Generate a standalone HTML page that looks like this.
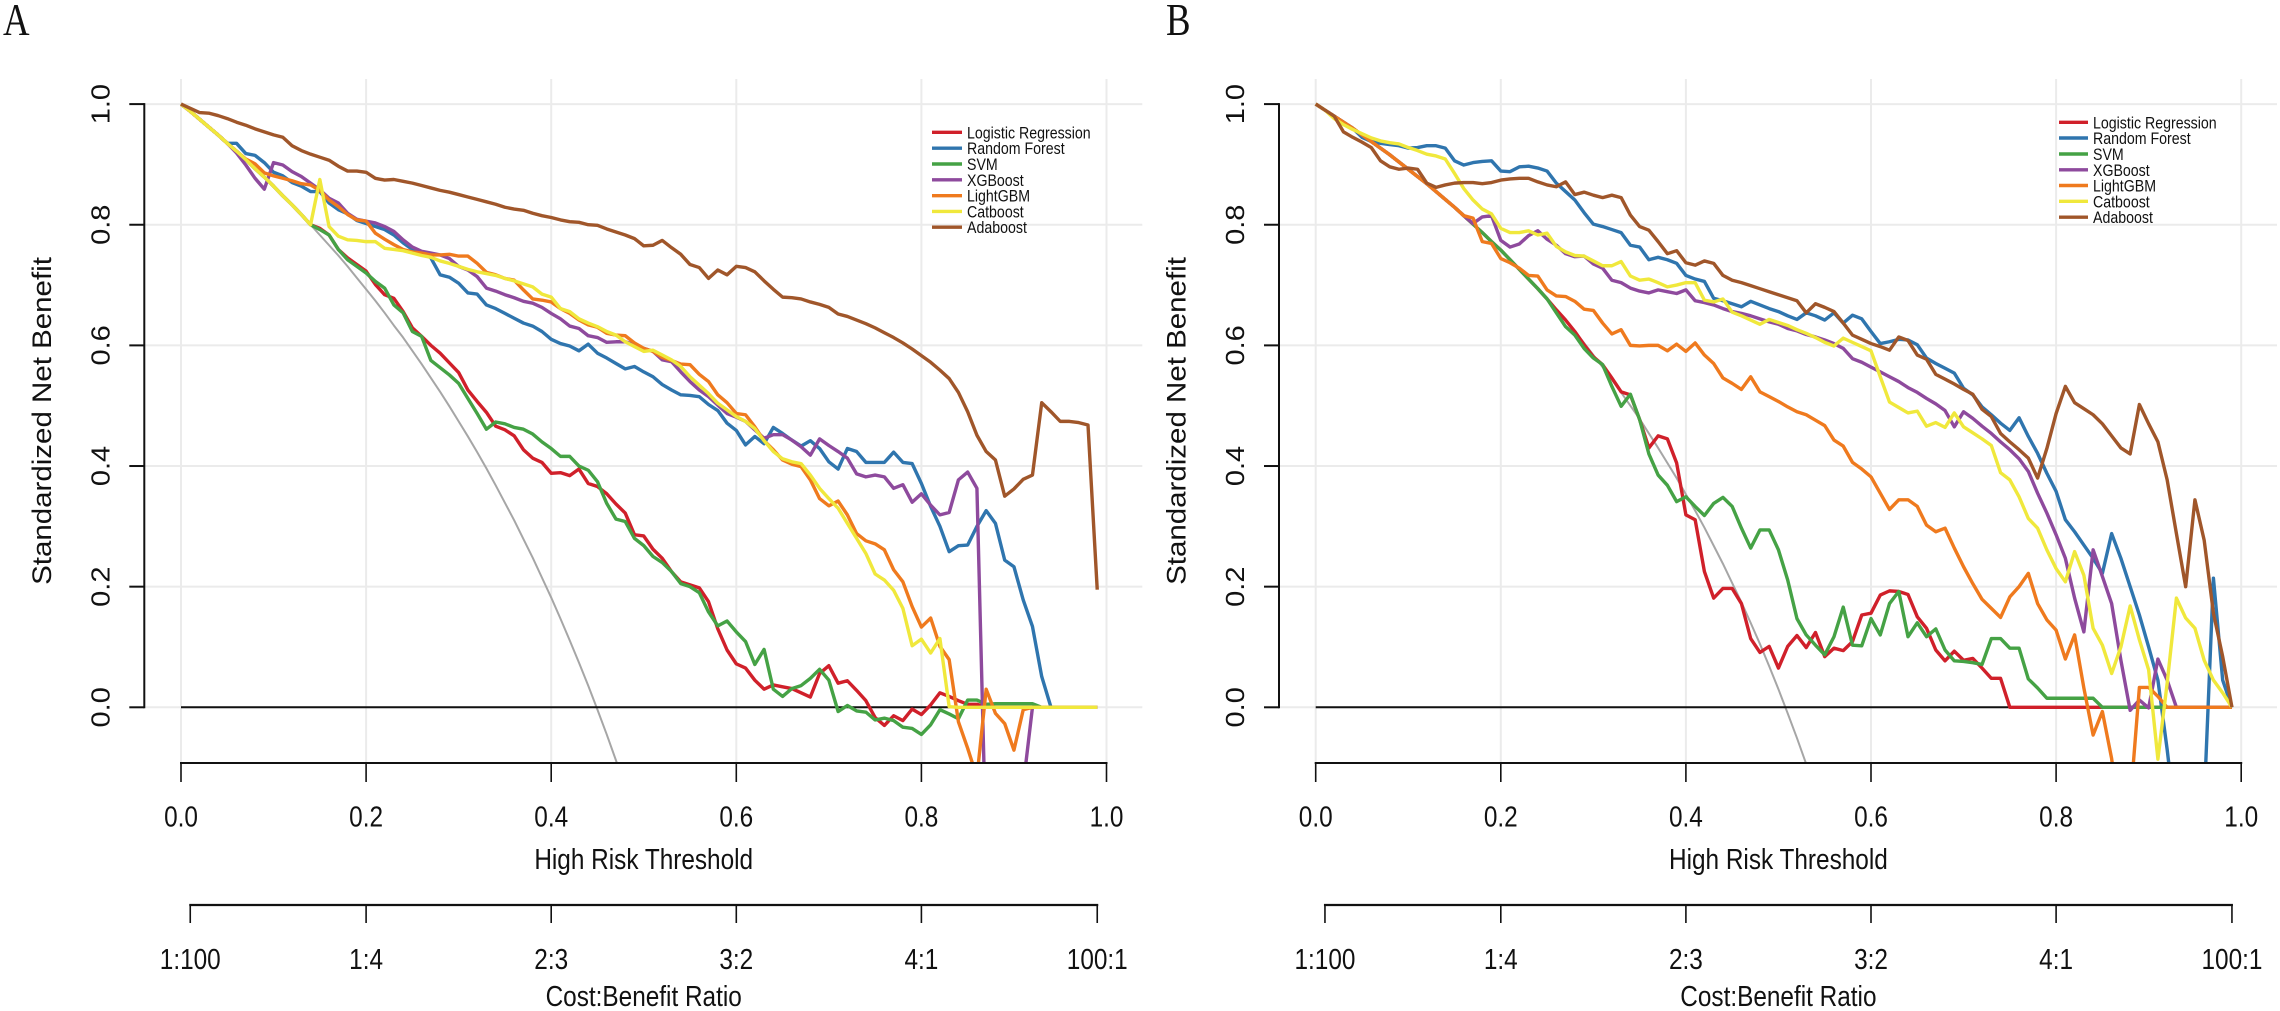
<!DOCTYPE html>
<html lang="en">
<head>
<meta charset="utf-8">
<title>Decision curves A and B</title>
<style>
html,body{margin:0;padding:0;background:#fff;}
svg{display:block;}
text{font-family:"Liberation Sans",sans-serif;fill:#111;}
.serif{font-family:"Liberation Serif",serif;}
</style>
</head>
<body>
<svg id="chart" xmlns="http://www.w3.org/2000/svg" width="2280" height="1011" viewBox="0 0 2280 1011">
  <defs>
    <clipPath id="clip-a"><rect x="144" y="79" width="998" height="684"/></clipPath>
    <clipPath id="clip-b"><rect x="1279" y="79" width="998" height="684"/></clipPath>
  </defs>
  <rect x="0" y="0" width="2280" height="1011" fill="#fff"/>
  <g id="panel-a"></g>
  <g id="panel-b"></g>

  <text class="serif" transform="translate(3,35) scale(.8,1)" font-size="46">A</text>
  <text class="serif" transform="translate(1166,35) scale(.8,1)" font-size="46">B</text>

  <text transform="translate(51,421) scale(.9,1) rotate(-90)" font-size="29.5" text-anchor="middle">Standardized Net Benefit</text>
  <text transform="translate(643.7,869) scale(.84,1)" font-size="29" text-anchor="middle">High Risk Threshold</text>
  <text transform="translate(643.7,1006) scale(.84,1)" font-size="29" text-anchor="middle">Cost:Benefit Ratio</text>

  <text transform="translate(1185.7,421) scale(.9,1) rotate(-90)" font-size="29.5" text-anchor="middle">Standardized Net Benefit</text>
  <text transform="translate(1778.4,869) scale(.84,1)" font-size="29" text-anchor="middle">High Risk Threshold</text>
  <text transform="translate(1778.4,1006) scale(.84,1)" font-size="29" text-anchor="middle">Cost:Benefit Ratio</text>

  <g font-size="16.3">
    <g><line x1="932" x2="962" y1="132.3" y2="132.3" stroke="#d0202a" stroke-width="3.4"/><text transform="translate(967,138.3) scale(.87,1)">Logistic Regression</text></g>
    <g><line x1="932" x2="962" y1="148.2" y2="148.2" stroke="#2f75ae" stroke-width="3.4"/><text transform="translate(967,154.2) scale(.87,1)">Random Forest</text></g>
    <g><line x1="932" x2="962" y1="164" y2="164" stroke="#45a245" stroke-width="3.4"/><text transform="translate(967,170) scale(.87,1)">SVM</text></g>
    <g><line x1="932" x2="962" y1="179.8" y2="179.8" stroke="#8e4a9d" stroke-width="3.4"/><text transform="translate(967,185.8) scale(.87,1)">XGBoost</text></g>
    <g><line x1="932" x2="962" y1="195.7" y2="195.7" stroke="#ef7a1e" stroke-width="3.4"/><text transform="translate(967,201.7) scale(.87,1)">LightGBM</text></g>
    <g><line x1="932" x2="962" y1="211.4" y2="211.4" stroke="#f0e83c" stroke-width="3.4"/><text transform="translate(967,217.4) scale(.87,1)">Catboost</text></g>
    <g><line x1="932" x2="962" y1="227.2" y2="227.2" stroke="#a0562a" stroke-width="3.4"/><text transform="translate(967,233.2) scale(.87,1)">Adaboost</text></g>
  </g>

  <g font-size="16.3">
    <g><line x1="2059" x2="2088" y1="122.3" y2="122.3" stroke="#d0202a" stroke-width="3.4"/><text transform="translate(2093,128.3) scale(.87,1)">Logistic Regression</text></g>
    <g><line x1="2059" x2="2088" y1="138" y2="138" stroke="#2f75ae" stroke-width="3.4"/><text transform="translate(2093,144) scale(.87,1)">Random Forest</text></g>
    <g><line x1="2059" x2="2088" y1="154" y2="154" stroke="#45a245" stroke-width="3.4"/><text transform="translate(2093,160) scale(.87,1)">SVM</text></g>
    <g><line x1="2059" x2="2088" y1="169.8" y2="169.8" stroke="#8e4a9d" stroke-width="3.4"/><text transform="translate(2093,175.8) scale(.87,1)">XGBoost</text></g>
    <g><line x1="2059" x2="2088" y1="185.5" y2="185.5" stroke="#ef7a1e" stroke-width="3.4"/><text transform="translate(2093,191.5) scale(.87,1)">LightGBM</text></g>
    <g><line x1="2059" x2="2088" y1="201.3" y2="201.3" stroke="#f0e83c" stroke-width="3.4"/><text transform="translate(2093,207.3) scale(.87,1)">Catboost</text></g>
    <g><line x1="2059" x2="2088" y1="217.2" y2="217.2" stroke="#a0562a" stroke-width="3.4"/><text transform="translate(2093,223.2) scale(.87,1)">Adaboost</text></g>
  </g>
</svg>

<script>
const thresholds = [
0,.01,.02,.03,.04,.05,.06,.07,.08,.09,
.10,.11,.12,.13,.14,.15,.16,.17,.18,.19,
.20,.21,.22,.23,.24,.25,.26,.27,.28,.29,
.30,.31,.32,.33,.34,.35,.36,.37,.38,.39,
.40,.41,.42,.43,.44,.45,.46,.47,.48,.49,
.50,.51,.52,.53,.54,.55,.56,.57,.58,.59,
.60,.61,.62,.63,.64,.65,.66,.67,.68,.69,
.70,.71,.72,.73,.74,.75,.76,.77,.78,.79,
.80,.81,.82,.83,.84,.85,.86,.87,.88,.89,
.90,.91,.92,.93,.94,.95,.96,.97,.98,.99];

const xTicks = [0,.2,.4,.6,.8,1];
const xTickLabels = ["0.0","0.2","0.4","0.6","0.8","1.0"];
const yTicks = [0,.2,.4,.6,.8,1];
const yTickLabels = ["0.0","0.2","0.4","0.6","0.8","1.0"];
const ratioTicks = [.01,.2,.4,.6,.8,.99];
const ratioLabels = ["1:100","1:4","2:3","3:2","4:1","100:1"];
const seriesNames = ["logistic-regression","random-forest","svm","xgboost","lightgbm","catboost","adaboost"];
const seriesColors = ["#d0202a","#2f75ae","#45a245","#8e4a9d","#ef7a1e","#f0e83c","#a0562a"];

const treatAllA = [1,.988,.975,.962,.949,.935,.922,.908,.893,.879,
.864,.848,.833,.817,.800,.783,.766,.749,.731,.712,
.693,.674,.654,.633,.613,.591,.569,.546,.523,.499,
.474,.449,.423,.396,.368,.339,.310,.279,.248,.215,
.182,.147,.111,.074,.036,-.004,-.045,-.088,-.133];

const logisticA = [1,.988,.975,.962,.949,.935,.922,.908,.893,.879,
.864,.848,.833,.817,.800,.794,.783,.759,.745,.734,
.723,.701,.684,.678,.656,.629,.615,.600,.587,.571,
.555,.526,.507,.489,.466,.460,.450,.427,.413,.406,
.388,.389,.384,.395,.371,.366,.354,.337,.322,.286,
.284,.262,.247,.225,.208,.203,.198,.175,.130,.095,
.072,.065,.045,.030,.037,.034,.031,.024,.017,.056,
.069,.040,.044,.028,.011,-.017,-.030,-.014,-.022,-.003,
-.012,.004,.024,.018,.011,.005,.005,0,0,0,
0,0,0,0,0,0,0,0,0,0];

const forestA = [1,.988,.975,.962,.949,.935,.935,.918,.915,.903,
.887,.881,.870,.864,.855,.855,.836,.825,.818,.807,
.802,.797,.792,.783,.770,.759,.755,.745,.717,.713,
.703,.687,.685,.667,.661,.653,.645,.637,.632,.623,
.610,.603,.599,.591,.602,.587,.579,.570,.561,.565,
.556,.548,.535,.526,.518,.517,.515,.502,.492,.471,
.459,.435,.449,.437,.464,.454,.443,.433,.442,.429,
.407,.395,.429,.424,.406,.406,.406,.423,.406,.404,
.371,.333,.300,.258,.268,.269,.300,.326,.305,.244,
.233,.178,.134,.051,0,0,0,0,0,0];

const svmA = [1,.988,.975,.962,.949,.935,.922,.908,.893,.879,
.864,.848,.833,.817,.800,.792,.783,.759,.742,.731,
.720,.706,.695,.667,.654,.623,.615,.575,.563,.551,
.537,.512,.487,.461,.473,.470,.464,.461,.453,.440,
.429,.416,.416,.400,.393,.374,.338,.312,.308,.280,
.268,.250,.240,.225,.205,.200,.190,.158,.135,.143,
.125,.109,.071,.096,.030,.018,.031,.036,.048,.063,
.045,-.007,.003,-.006,-.008,-.021,-.018,-.022,-.033,-.035,
-.045,-.029,-.004,-.011,-.019,.012,.012,.005,.006,.006,
.006,.006,.006,0,0,0,0,0,0,0];

const xgbA = [1,.988,.975,.962,.949,.935,.919,.899,.877,.859,
.903,.899,.888,.880,.869,.858,.844,.836,.819,.809,
.806,.803,.797,.789,.775,.763,.756,.753,.750,.744,
.731,.725,.714,.695,.690,.684,.679,.673,.670,.663,
.653,.644,.632,.628,.616,.613,.605,.606,.606,.601,
.595,.590,.576,.573,.556,.540,.526,.515,.501,.487,
.481,.474,.460,.446,.452,.452,.443,.432,.418,.445,
.434,.424,.413,.387,.382,.385,.382,.363,.369,.340,
.354,.335,.319,.323,.377,.390,.363,-.24,-.3,-.3,
-.2,-.13,0,0,0,0,0,0,0,0];

const lgbmA = [1,.988,.975,.962,.949,.935,.922,.909,.901,.886,
.881,.877,.873,.868,.866,.857,.841,.830,.817,.808,
.806,.786,.776,.767,.759,.755,.753,.750,.750,.751,
.748,.748,.736,.721,.717,.711,.708,.692,.677,.675,
.672,.661,.653,.642,.634,.630,.620,.617,.616,.604,
.595,.590,.580,.575,.569,.568,.552,.540,.518,.505,
.487,.485,.465,.442,.427,.410,.403,.399,.377,.346,
.334,.342,.319,.288,.276,.271,.261,.228,.208,.167,
.133,.148,.101,.079,-.024,-.068,-.116,.030,-.010,-.027,
-.071,-.004,0,0,0,0,0,0,0,0];

const catA = [1,.988,.975,.962,.949,.935,.922,.908,.893,.879,
.864,.848,.833,.817,.800,.875,.797,.781,.775,.774,
.772,.772,.761,.759,.757,.753,.749,.746,.740,.736,
.731,.726,.722,.719,.716,.711,.707,.702,.697,.685,
.680,.661,.656,.644,.637,.631,.623,.617,.606,.598,
.590,.592,.584,.576,.565,.548,.534,.520,.504,.493,
.482,.474,.462,.442,.424,.412,.407,.404,.385,.363,
.346,.330,.305,.280,.255,.221,.211,.194,.164,.102,
.113,.090,.114,.001,0,0,0,0,0,0,
0,0,0,0,0,0,0,0,0,0];

const adaA = [1,.993,.986,.985,.981,.976,.970,.965,.959,.954,
.949,.945,.931,.923,.917,.912,.907,.897,.889,.889,
.887,.877,.874,.875,.872,.869,.865,.861,.857,.854,
.850,.846,.842,.838,.834,.829,.826,.824,.819,.815,
.812,.808,.805,.804,.800,.799,.793,.788,.783,.777,
.765,.766,.774,.762,.751,.734,.729,.711,.725,.717,
.731,.729,.722,.707,.693,.680,.679,.677,.672,.668,
.663,.652,.648,.642,.636,.629,.621,.613,.604,.594,
.583,.572,.559,.545,.522,.490,.451,.424,.410,.350,
.362,.378,.385,.505,.490,.474,.474,.472,.468,.195];

const treatAllB = [1,.990,.980,.970,.960,.949,.938,.927,.916,.904,
.892,.880,.868,.855,.842,.829,.815,.801,.787,.772,
.758,.742,.726,.710,.694,.677,.659,.641,.623,.604,
.584,.564,.543,.522,.500,.478,.454,.430,.405,.380,
.353,.326,.298,.268,.238,.206,.174,.140,.105,.068,
.030,-.010,-.051,-.094,-.139];

const logisticB = [1,.990,.980,.970,.960,.949,.938,.927,.916,.904,
.892,.880,.868,.855,.842,.829,.815,.801,.787,.772,
.758,.742,.726,.710,.694,.677,.659,.642,.623,.601,
.581,.568,.546,.523,.518,.477,.430,.450,.445,.405,
.319,.311,.225,.181,.197,.197,.172,.114,.091,.101,
.065,.101,.119,.099,.124,.084,.098,.094,.109,.153,
.156,.186,.193,.192,.187,.150,.131,.095,.077,.093,
.078,.081,.065,.048,.048,0,0,0,0,0,
0,0,0,0,0,0,0,0,0,0,
0,0,0,0,0,0,0,0,0,0];

const forestB = [1,.990,.980,.970,.960,.945,.938,.935,.933,.931,
.927,.928,.931,.931,.927,.906,.899,.903,.905,.906,
.889,.888,.896,.897,.894,.889,.869,.855,.841,.820,
.801,.797,.792,.787,.766,.763,.742,.746,.742,.736,
.716,.710,.706,.678,.674,.669,.664,.673,.667,.661,
.656,.649,.643,.654,.649,.642,.654,.637,.650,.644,
.623,.603,.606,.610,.609,.601,.579,.570,.562,.554,
.529,.518,.498,.485,.471,.459,.480,.449,.421,.388,
.358,.311,.291,.269,.247,.222,.288,.247,.200,.153,
.100,.045,-.07,-.2,-.3,-.3,-.156,.214,.045,0];

const svmB = [1,.990,.980,.970,.960,.949,.938,.927,.916,.904,
.892,.880,.868,.855,.842,.829,.815,.801,.787,.772,
.758,.742,.726,.710,.694,.677,.654,.631,.617,.595,
.579,.568,.532,.499,.519,.477,.420,.385,.368,.341,
.349,.333,.318,.338,.348,.333,.297,.264,.294,.294,
.261,.211,.147,.120,.103,.087,.117,.166,.103,.102,
.147,.120,.172,.192,.117,.140,.117,.130,.095,.077,
.076,.074,.071,.114,.114,.098,.098,.047,.032,.015,
.015,.015,.015,.015,.015,0,0,0,0,0,
0,0,0,0,0,0,0,0,0,0];

const xgbB = [1,.990,.980,.970,.960,.949,.938,.927,.916,.904,
.892,.880,.868,.855,.842,.829,.815,.802,.813,.815,
.774,.763,.768,.782,.790,.776,.766,.752,.747,.748,
.735,.728,.708,.704,.695,.690,.687,.692,.689,.686,
.692,.674,.671,.667,.661,.656,.653,.649,.644,.639,
.635,.628,.624,.618,.614,.609,.603,.595,.578,.572,
.564,.556,.548,.540,.530,.522,.512,.503,.492,.465,
.490,.479,.466,.454,.440,.427,.412,.391,.355,.322,
.286,.247,.181,.125,.261,.217,.172,.078,-.005,.012,
-.001,.080,.045,0,0,0,0,0,0,0];

const lgbmB = [1,.990,.980,.970,.960,.949,.938,.927,.916,.904,
.892,.880,.868,.855,.842,.829,.815,.811,.772,.769,
.744,.737,.728,.716,.715,.692,.682,.681,.673,.660,
.658,.637,.619,.626,.600,.599,.600,.600,.591,.602,
.590,.604,.584,.570,.546,.537,.527,.548,.523,.515,
.507,.498,.490,.485,.476,.467,.443,.433,.406,.395,
.382,.355,.328,.344,.344,.333,.302,.291,.297,.264,
.233,.205,.179,.164,.149,.183,.200,.222,.172,.145,
.128,.080,.120,.032,-.046,-.007,-.085,-.2,-.16,.033,
.033,.018,0,0,0,0,0,0,0,0];

const catB = [1,.990,.976,.966,.958,.951,.944,.939,.936,.934,
.928,.923,.917,.914,.909,.885,.860,.841,.826,.818,
.794,.787,.787,.790,.783,.786,.764,.755,.749,.748,
.740,.732,.732,.739,.715,.708,.710,.704,.697,.700,
.704,.704,.675,.672,.677,.655,.649,.642,.635,.643,
.638,.633,.626,.620,.613,.605,.599,.612,.605,.598,
.591,.548,.506,.497,.488,.491,.466,.472,.464,.488,
.465,.455,.445,.434,.389,.377,.349,.313,.297,.261,
.230,.208,.258,.219,.131,.103,.056,.100,.168,.112,
.062,-.086,.040,.181,.148,.131,.078,.045,.024,0];

const adaB = [1,.990,.980,.954,.945,.937,.928,.906,.896,.892,
.894,.892,.869,.862,.866,.869,.870,.870,.868,.870,
.874,.876,.877,.877,.871,.866,.863,.871,.850,.854,
.849,.845,.849,.845,.816,.797,.791,.772,.752,.757,
.737,.733,.740,.736,.716,.708,.704,.699,.694,.689,
.684,.679,.674,.654,.669,.663,.656,.637,.617,.610,
.603,.598,.592,.614,.608,.584,.577,.552,.544,.536,
.527,.519,.494,.482,.454,.440,.427,.413,.380,.429,
.487,.532,.505,.495,.485,.470,.450,.430,.420,.502,
.470,.440,.377,.288,.200,.344,.277,.156,.084,0];

const seriesA = [logisticA, forestA, svmA, xgbA, lgbmA, catA, adaA];
const seriesB = [logisticB, forestB, svmB, xgbB, lgbmB, catB, adaB];

const NS = "http://www.w3.org/2000/svg";
const yScale = v => 707.3 - 603.2 * v;

function shape(tag, parent, props) {
  const el = document.createElementNS(NS, tag);
  for (const k in props) el.setAttribute(k, props[k]);
  parent.appendChild(el);
  return el;
}

function linePath(xs, ys, xScale) {
  return ys.map((v, i) => (i ? "L" : "M") + xScale(xs[i]).toFixed(2) + " " + yScale(v).toFixed(2)).join(" ");
}

function drawPanel(root, originX, axisX, clipId, treatAll, series) {
  const xScale = t => originX + 925.5 * t;
  const gridRight = axisX + 998;

  const grid = shape("g", root, {stroke: "#ebebeb", "stroke-width": 2, fill: "none"});
  
  
  xTicks.forEach(t => {
    const gridX = shape("line", grid, {x1: xScale(t), x2: xScale(t), y1: 79, y2: 763});
    
    
  });
  yTicks.forEach(v => {
    const gridY = shape("line", grid, {x1: axisX, x2: gridRight, y1: yScale(v), y2: yScale(v)});
    
    
  });

  const marks = shape("g", root, {"clip-path": "url(#" + clipId + ")", fill: "none", "stroke-linejoin": "round"});
  
  

  const allLine = shape("path", marks, {d: linePath(thresholds, treatAll, xScale), stroke: "#a6a6a6", "stroke-width": 2});
  
  

  const noneLine = shape("line", marks, {x1: xScale(thresholds[0]), x2: xScale(thresholds[thresholds.length - 1]), y1: yScale(0), y2: yScale(0), stroke: "#111", "stroke-width": 2});
  
  

  series.forEach((vals, s) => {
    const curve = shape("path", marks, {d: linePath(thresholds, vals, xScale), stroke: seriesColors[s], "stroke-width": 3.4});
    
    
  });

  const axes = shape("g", root, {stroke: "#111", fill: "none"});
  
  

  const yAxis = shape("line", axes, {x1: axisX, x2: axisX, y1: yScale(1) - 1, y2: yScale(0) + 1, "stroke-width": 2});
  
  
  yTicks.forEach((v, i) => {
    const tick = shape("line", axes, {x1: axisX - 15, x2: axisX, y1: yScale(v), y2: yScale(v), "stroke-width": 2});
    
    
    const label = shape("text", root, {transform: "translate(" + (axisX - 35) + "," + yScale(v) + ") scale(.9,1) rotate(-90)", "font-size": 29, "text-anchor": "middle"});
    label.textContent = yTickLabels[i];
    
    
  });

  const xAxis = shape("line", axes, {x1: xScale(0) - 1, x2: xScale(1) + 1, y1: 763, y2: 763, "stroke-width": 2});
  
  
  xTicks.forEach((t, i) => {
    const tick = shape("line", axes, {x1: xScale(t), x2: xScale(t), y1: 763, y2: 782, "stroke-width": 1.6});
    
    
    const label = shape("text", root, {transform: "translate(" + xScale(t) + ",826.7) scale(.84,1)", "font-size": 29, "text-anchor": "middle"});
    label.textContent = xTickLabels[i];
    
    
  });

  const ratioAxis = shape("line", axes, {x1: xScale(ratioTicks[0]) - 1, x2: xScale(ratioTicks[ratioTicks.length - 1]) + 1, y1: 905, y2: 905, "stroke-width": 2.2});
  
  
  ratioTicks.forEach((t, i) => {
    const tick = shape("line", axes, {x1: xScale(t), x2: xScale(t), y1: 905, y2: 923, "stroke-width": 1.6});
    
    
    const label = shape("text", root, {transform: "translate(" + xScale(t) + ",969) scale(.84,1)", "font-size": 29, "text-anchor": "middle"});
    label.textContent = ratioLabels[i];
    
    
  });
}

drawPanel(document.getElementById("panel-a"), 181, 144.3, "clip-a", treatAllA, seriesA);
drawPanel(document.getElementById("panel-b"), 1315.7, 1279, "clip-b", treatAllB, seriesB);
</script>
</body>
</html>
